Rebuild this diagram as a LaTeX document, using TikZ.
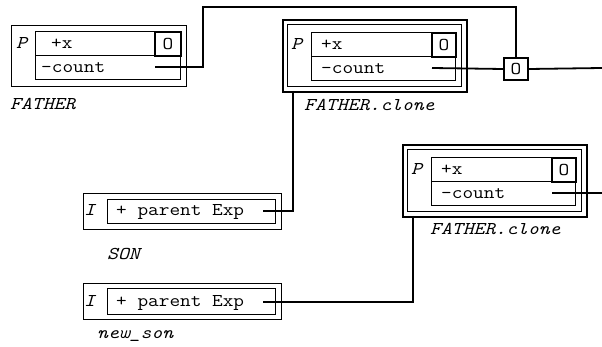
\documentclass[tikz,border=0pt]{standalone}
\usepackage{fontspec}
\newfontfamily\mono[FakeStretch=1.15]{Latin Modern Mono}
\begin{document}
\begin{tikzpicture}[x=1pt,y=-1pt,
  thinbox/.style={draw, line width=0.8pt, inner sep=0, anchor=north west},
  thickbox/.style={draw, line width=2.2pt, inner sep=0, anchor=north west},
  obox/.style={draw, line width=2pt, inner sep=0, anchor=north west},
  txt/.style={font=\mono\fontsize{18}{20}\selectfont, inner sep=0, anchor=base west},
  itxt/.style={font=\mono\itshape\fontsize{18}{20}\selectfont, inner sep=0, anchor=base west},
  otxt/.style={font=\mono\fontsize{18}{20}\selectfont, inner sep=0},
  conn/.style={draw, line width=1.8pt}]
\useasboundingbox (0,0) rectangle (602,347);

% ---------- FATHER ----------
\node[thinbox, minimum width=175, minimum height=61] (f) at (11,25) {};
\node[thinbox, minimum width=145, minimum height=24] (fx) at (35,31) {};
\node[thinbox, minimum width=145, minimum height=24] (fc) at (35,55) {};
\node[obox, minimum width=26, minimum height=24] (fo) at (154,31) {};
\node[otxt] (fot) at (fo.center) {O};
\node[itxt] (fp) at (16,49) {P};
\node[txt] (fxt) at (51,49) {+x};
\node[txt] (fct) at (41,73) {-count};
\node[itxt] (fl) at (10,110) {FATHER};
\coordinate (fstart) at (155,67);

% ---------- FATHER.clone (1) ----------
\node[thickbox, minimum width=184, minimum height=72] (a) at (282,19) {};
\node[thinbox, minimum width=174, minimum height=62] (ai) at (287,24) {};
\node[thinbox, minimum width=144, minimum height=24] (ax) at (311,32) {};
\node[thinbox, minimum width=144, minimum height=24] (ac) at (311,56) {};
\node[obox, minimum width=24, minimum height=24] (ao) at (431,32) {};
\node[otxt] (aot) at (ao.center) {O};
\node[itxt] (ap) at (291,50) {P};
\node[txt] (axt) at (321,50) {+x};
\node[txt] (act) at (321,74) {-count};
\node[itxt] (al) at (304,111) {FATHER.clone};
\coordinate (astart) at (432,68);
\coordinate (aout) at (293,91);

% ---------- O junction ----------
\node[obox, minimum width=24, minimum height=22] (j) at (503,57) {};
\node[otxt] (jt) at (j.center) {O};
\coordinate (jright) at (602,68);

% ---------- FATHER.clone (2) ----------
\node[thickbox, minimum width=184, minimum height=72] (b) at (402,144) {};
\node[thinbox, minimum width=174, minimum height=62] (bi) at (407,149) {};
\node[thinbox, minimum width=144, minimum height=24] (bx) at (431,157) {};
\node[thinbox, minimum width=144, minimum height=24] (bc) at (431,181) {};
\node[obox, minimum width=24, minimum height=24] (bo) at (551,157) {};
\node[otxt] (bot) at (bo.center) {O};
\node[itxt] (bp) at (411,175) {P};
\node[txt] (bxt) at (441,175) {+x};
\node[txt] (bct) at (441,199) {-count};
\node[itxt] (bl) at (430,235) {FATHER.clone};
\coordinate (bstart) at (552,193);
\coordinate (bright) at (602,193);
\coordinate (bout) at (413,216);

% ---------- SON ----------
\node[thinbox, minimum width=198, minimum height=36] (s) at (83,193) {};
\node[thinbox, minimum width=168, minimum height=24] (si) at (107,199) {};
\node[itxt] (sp) at (84,216) {I};
\node[txt] (st) at (116,216) {+ parent Exp};
\node[itxt] (sl) at (107,260) {SON};
\coordinate (sstart) at (263,211);

% ---------- new_son ----------
\node[thinbox, minimum width=198, minimum height=36] (n) at (83,283) {};
\node[thinbox, minimum width=168, minimum height=26] (ni) at (107,288) {};
\node[itxt] (np) at (84,306) {I};
\node[txt] (nt) at (116,306) {+ parent Exp};
\node[itxt] (nl) at (97,338) {new\_son};
\coordinate (nstart) at (263,302);

% ---------- connectors ----------
\draw[conn] (fstart) -| (203,7) -| (j.north);
\draw[conn] (astart) -- (j.west);
\draw[conn] (j.east) -- (jright);
\draw[conn] (bstart) -- (bright);
\draw[conn] (aout) |- (sstart);
\draw[conn] (bout) |- (nstart);
\end{tikzpicture}
\end{document}
